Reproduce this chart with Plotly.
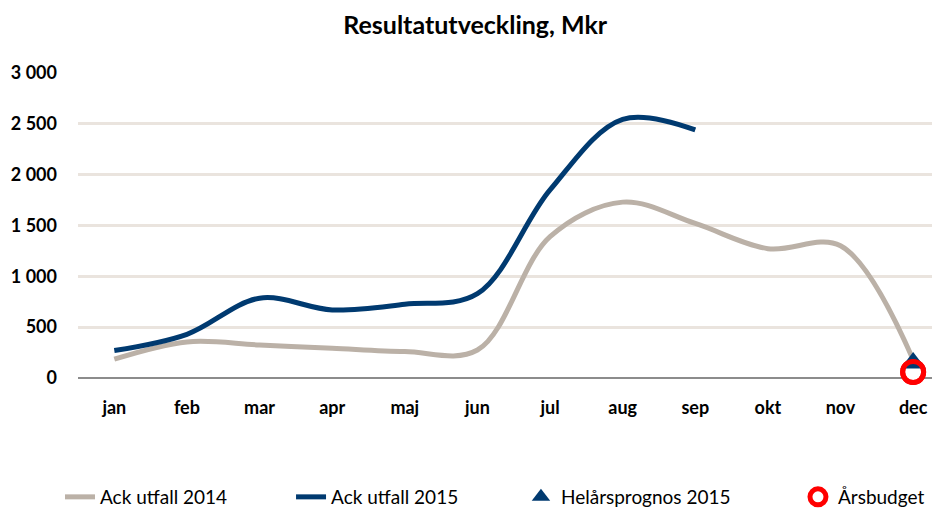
import plotly.graph_objects as go

months = ["jan", "feb", "mar", "apr", "maj", "jun", "jul", "aug", "sep", "okt", "nov", "dec"]
ack_2014 = [185, 355, 325, 292, 260, 275, 1390, 1730, 1520, 1272, 1300, 180]
ack_2015 = [270, 430, 785, 670, 725, 830, 1850, 2545, 2440]
prognos_month = ["dec"]
prognos_2015 = [147]
budget_month = ["dec"]
budget = [59]
y_ticks = [0, 500, 1000, 1500, 2000, 2500, 3000]
y_tick_text = ["0", "500", "1 000", "1 500", "2 000", "2 500", "3 000"]

GRAY = "#BBB1A7"
BLUE = "#003A70"
RED = "#FF0000"
legfont = dict(family="Lato", size=19, color="#000000")

fig = go.Figure()
fig.add_trace(go.Scatter(x=months, y=ack_2014, mode="lines", name="Ack utfall 2014",
                         line=dict(color=GRAY, width=5, shape="spline", smoothing=1.0),
                         legend="legend"))
fig.add_trace(go.Scatter(x=months[:len(ack_2015)], y=ack_2015, mode="lines", name="Ack utfall 2015",
                         line=dict(color=BLUE, width=5, shape="spline", smoothing=1.0),
                         legend="legend2"))
fig.add_trace(go.Scatter(x=budget_month, y=budget, mode="markers", name="Årsbudget",
                         marker=dict(symbol="circle", size=21, color="white",
                                     line=dict(color=RED, width=5)),
                         cliponaxis=False, legend="legend4"))
fig.add_trace(go.Scatter(x=prognos_month, y=prognos_2015, mode="markers", name="Helårsprognos 2015",
                         marker=dict(symbol="triangle-up", size=22, color=BLUE),
                         cliponaxis=False, legend="legend3"))
fig.add_trace(go.Scatter(x=budget_month, y=budget, mode="markers", showlegend=False,
                         marker=dict(symbol="circle-open", size=21, color=RED,
                                     line=dict(color=RED, width=5)),
                         cliponaxis=False, hoverinfo="skip"))

def leg(x):
    return dict(orientation="h", xref="container", yref="container", x=x, y=20 / 509,
                xanchor="left", yanchor="middle", font=legfont, itemwidth=30,
                bgcolor="rgba(0,0,0,0)")

fig.update_layout(
    width=940, height=509,
    paper_bgcolor="white", plot_bgcolor="white",
    margin=dict(l=70, r=0, t=65, b=139, autoexpand=False),
    title=dict(text="<b>Resultatutveckling, Mkr</b>", x=0.497, xanchor="center",
               y=1 - 17 / 509, yanchor="middle",
               font=dict(family="Lato", size=25, color="#000000")),
    showlegend=True,
    legend=leg(0.0553),
    legend2=leg(0.3011),
    legend3=leg(0.5457),
    legend4=leg(0.8404),
    xaxis=dict(type="category", categoryorder="array", categoryarray=months,
               range=[-0.5, 11.48], showgrid=False, showline=False, zeroline=False,
               ticks="", ticklabelstandoff=17, automargin=False,
               tickfont=dict(family="Lato", size=18, color="#000000", weight="bold")),
    yaxis=dict(range=[0, 3000], tickvals=y_ticks, ticktext=y_tick_text,
               showgrid=True, gridcolor="#EAE4DE", gridwidth=3,
               zeroline=True, zerolinecolor="#8C8C8C", zerolinewidth=2,
               showline=False, ticks="", ticklabelstandoff=20, automargin=False,
               tickfont=dict(family="Lato", size=18, color="#000000", weight="bold")),
)

fig.write_html("out.html")
